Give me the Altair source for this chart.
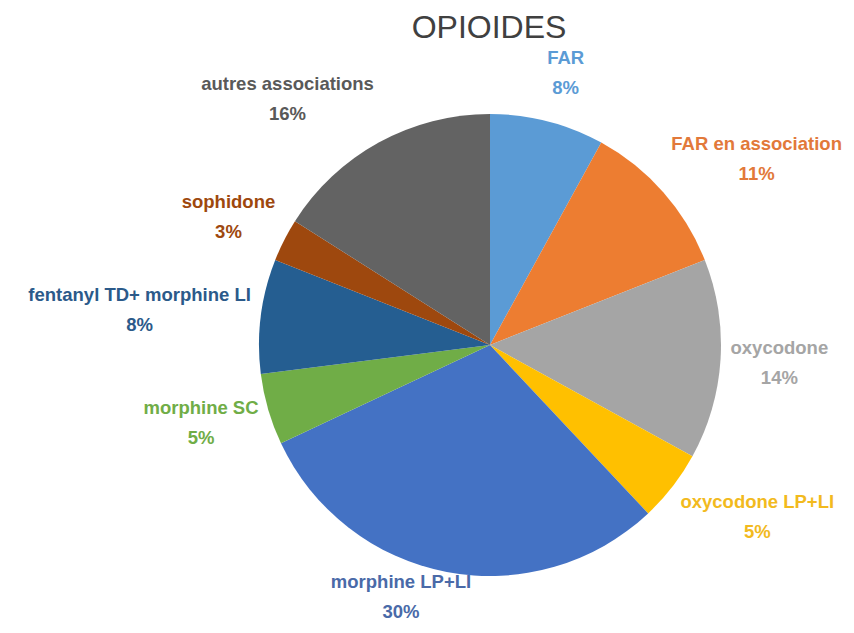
import math
import altair as alt
import pandas as pd

labels = ["FAR", "FAR  en association", "oxycodone", "oxycodone  LP+LI",
          "morphine  LP+LI", "morphine  SC", "fentanyl TD+ morphine LI",
          "sophidone", "autres associations"]
values = [8, 11, 14, 5, 30, 5, 8, 3, 16]
slice_colors = ["#5B9BD5", "#ED7D31", "#A5A5A5", "#FFC000", "#4472C4",
                "#70AD47", "#255E91", "#9E480E", "#636363"]
label_colors = ["#5B9BD5", "#E2793A", "#A5A5A5", "#F2BA1E", "#4A6AA8",
                "#70AD47", "#2B5A8A", "#9E480E", "#595959"]
title_text = "OPIOIDES"

CX, CY = 482, 337      # pie centre in plot coordinates
R = 231
RX, RY = 241, 281      # label anchor radii
FS = 18.5              # label font size
LH = 30                # line height
YMAX = 589             # lowest label block centre

# approximate Arial/Liberation Sans Bold advance widths (per 1000 em)
W = {"a": 556, "b": 611, "c": 556, "d": 611, "e": 556, "f": 333, "g": 611,
     "h": 611, "i": 278, "l": 278, "m": 889, "n": 611, "o": 611, "p": 611,
     "r": 389, "s": 556, "t": 333, "u": 611, "x": 556, "y": 556, "A": 722,
     "C": 722, "D": 722, "F": 611, "I": 278, "L": 611, "P": 667, "R": 722,
     "S": 667, "T": 611, " ": 278, "+": 584, "%": 889}


def text_width(s):
    return sum(W.get(ch, 556) for ch in " ".join(s.split())) / 1000 * FS


total = sum(values)
rows = []
cum = 0
for i, (lab, v, c, lc) in enumerate(zip(labels, values, slice_colors, label_colors)):
    mid = (cum + v / 2) / total * 2 * math.pi
    cum += v
    s = math.sin(mid)
    w = max(text_width(lab), text_width(f"{v}%"))
    k = max(-1.0, min(1.0, s / 0.3))
    lx = CX + RX * s + k * w / 2
    ly = min(CY - RY * math.cos(mid), YMAX)
    rows.append({
        "idx": i, "label": lab, "value": v, "color": c, "tcolor": lc,
        "text": f"{lab}\n{v}%", "lx": lx, "ly": ly,
    })
df = pd.DataFrame(rows)

base = alt.Chart(df)

pie = base.mark_arc(outerRadius=R).encode(
    theta=alt.Theta("value:Q", stack=True),
    order=alt.Order("idx:Q"),
    color=alt.Color("color:N", scale=None),
    x=alt.value(CX),
    y=alt.value(CY),
)

text = base.mark_text(
    align="center", baseline="middle", lineBreak="\n", lineHeight=LH,
    dy=-LH / 2, font="Liberation Sans", fontWeight="bold", fontSize=FS,
).encode(
    x=alt.X("lx:Q", scale=None),
    y=alt.Y("ly:Q", scale=None),
    text="text:N",
    color=alt.Color("tcolor:N", scale=None),
)

title = alt.Chart(pd.DataFrame({"t": [title_text]})).mark_text(
    font="Liberation Sans", fontSize=32, color="#404040", align="center",
    baseline="middle",
).encode(text="t:N", x=alt.value(481), y=alt.value(20))

chart = alt.layer(pie, text, title).properties(
    width=838, height=617, autosize="none", padding=0
).configure_view(stroke=None)

chart.save("out.html", embed_options={"renderer": "svg", "actions": False})
